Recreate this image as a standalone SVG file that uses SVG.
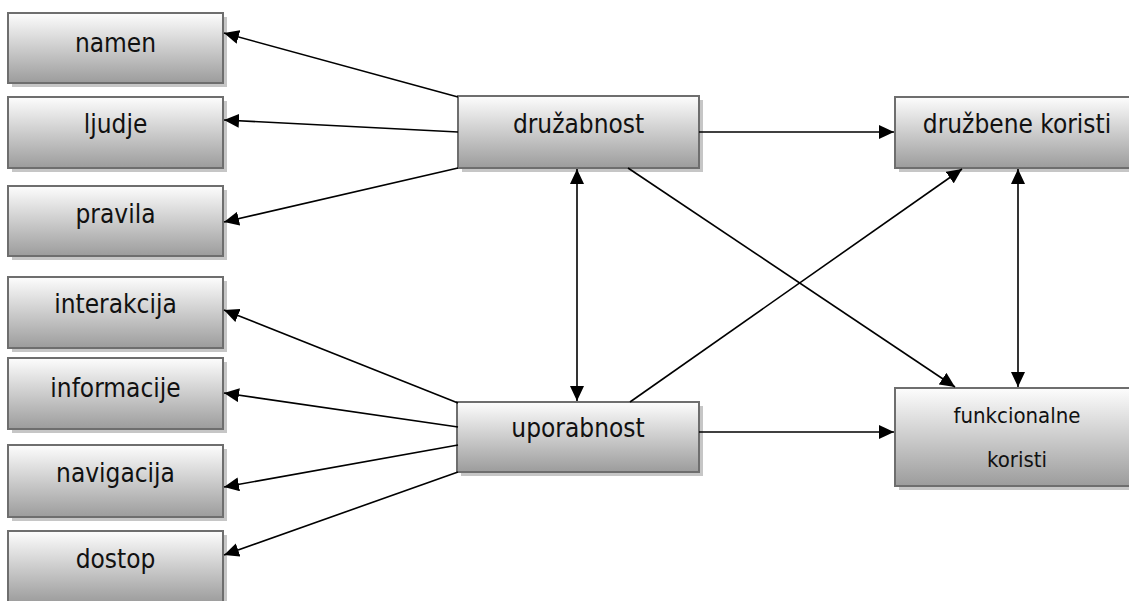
<svg xmlns="http://www.w3.org/2000/svg" width="1129" height="601" viewBox="0 0 1129 601">
  <style>
    .shadow { fill: #c6c6c6; }
    .box { fill: url(#grad); stroke: #6e6e6e; stroke-width: 2; }
    .lbl { font-family: 'DejaVu Sans Condensed', 'DejaVu Sans', sans-serif; font-size: 26px; fill: #111; text-anchor: middle; }
    .sm { font-size: 22px; }
    .con { stroke: #000; stroke-width: 1.6; fill: none; }
    .end { marker-end: url(#arr); }
    .both { marker-end: url(#arr); marker-start: url(#arrs); }
  </style>
  <defs>
    <linearGradient id="grad" x1="0" y1="0" x2="0" y2="1">
      <stop offset="0" stop-color="#fdfdfd"/>
      <stop offset="1" stop-color="#9c9c9c"/>
    </linearGradient>
    <marker id="arr" markerUnits="userSpaceOnUse" markerWidth="16" markerHeight="14" viewBox="0 0 16 14" refX="15" refY="7" orient="auto">
      <path d="M0,0 L15,7 L0,14 Z" fill="#000"/>
    </marker>
    <marker id="arrs" markerUnits="userSpaceOnUse" markerWidth="16" markerHeight="14" viewBox="0 0 16 14" refX="1" refY="7" orient="auto">
      <path d="M16,0 L1,7 L16,14 Z" fill="#000"/>
    </marker>
  </defs>
  <rect width="1129" height="601" fill="#fff"/>

  <g id="namen">
    <rect class="shadow" x="12" y="17" width="215" height="70"/>
    <rect class="box" x="8" y="13" width="215" height="70"/>
    <text class="lbl" x="115.5" y="52">namen</text>
  </g>
  <g id="ljudje">
    <rect class="shadow" x="12" y="101" width="215" height="71"/>
    <rect class="box" x="8" y="97" width="215" height="71"/>
    <text class="lbl" x="115.5" y="133">ljudje</text>
  </g>
  <g id="pravila">
    <rect class="shadow" x="12" y="190" width="215" height="70"/>
    <rect class="box" x="8" y="186" width="215" height="70"/>
    <text class="lbl" x="115.5" y="223">pravila</text>
  </g>
  <g id="interakcija">
    <rect class="shadow" x="12" y="281" width="215" height="71"/>
    <rect class="box" x="8" y="277" width="215" height="71"/>
    <text class="lbl" x="115.5" y="313">interakcija</text>
  </g>
  <g id="informacije">
    <rect class="shadow" x="12" y="362" width="215" height="71"/>
    <rect class="box" x="8" y="358" width="215" height="71"/>
    <text class="lbl" x="115.5" y="397">informacije</text>
  </g>
  <g id="navigacija">
    <rect class="shadow" x="12" y="449" width="215" height="72"/>
    <rect class="box" x="8" y="445" width="215" height="72"/>
    <text class="lbl" x="115.5" y="482">navigacija</text>
  </g>
  <g id="dostop">
    <rect class="shadow" x="12" y="535" width="215" height="72"/>
    <rect class="box" x="8" y="531" width="215" height="72"/>
    <text class="lbl" x="115.5" y="568">dostop</text>
  </g>

  <g id="druzabnost">
    <rect class="shadow" x="462" y="100" width="241" height="72"/>
    <rect class="box" x="458" y="96" width="241" height="72"/>
    <text class="lbl" x="578.5" y="133">družabnost</text>
  </g>
  <g id="uporabnost">
    <rect class="shadow" x="461" y="406" width="242" height="70"/>
    <rect class="box" x="457" y="402" width="242" height="70"/>
    <text class="lbl" x="578" y="437">uporabnost</text>
  </g>
  <g id="druzbene-koristi">
    <rect class="shadow" x="899" y="101" width="242" height="71"/>
    <rect class="box" x="895" y="97" width="242" height="71"/>
    <text class="lbl" x="1017" y="133">družbene koristi</text>
  </g>
  <g id="funkcionalne-koristi">
    <rect class="shadow" x="899" y="392" width="242" height="98"/>
    <rect class="box" x="895" y="388" width="242" height="98"/>
    <text class="lbl sm" x="1017" y="423">funkcionalne</text>
    <text class="lbl sm" x="1017" y="467">koristi</text>
  </g>

  <g id="connectors">
    <line class="con end" x1="458" y1="97" x2="224" y2="33"/>
    <line class="con end" x1="458" y1="132" x2="224" y2="120"/>
    <line class="con end" x1="458" y1="168" x2="224" y2="222"/>
    <line class="con end" x1="458" y1="403" x2="224" y2="310"/>
    <line class="con end" x1="458" y1="427" x2="224" y2="393"/>
    <line class="con end" x1="458" y1="445" x2="224" y2="487"/>
    <line class="con end" x1="458" y1="472" x2="224" y2="555"/>
    <line class="con end" x1="699" y1="132" x2="894" y2="132"/>
    <line class="con end" x1="699" y1="432" x2="894" y2="432"/>
    <line class="con both" x1="577" y1="169" x2="577" y2="401"/>
    <line class="con both" x1="1018" y1="169" x2="1018" y2="387"/>
    <line class="con end" x1="630" y1="402" x2="962" y2="169"/>
    <line class="con end" x1="628" y1="168" x2="955" y2="387"/>
  </g>
</svg>
